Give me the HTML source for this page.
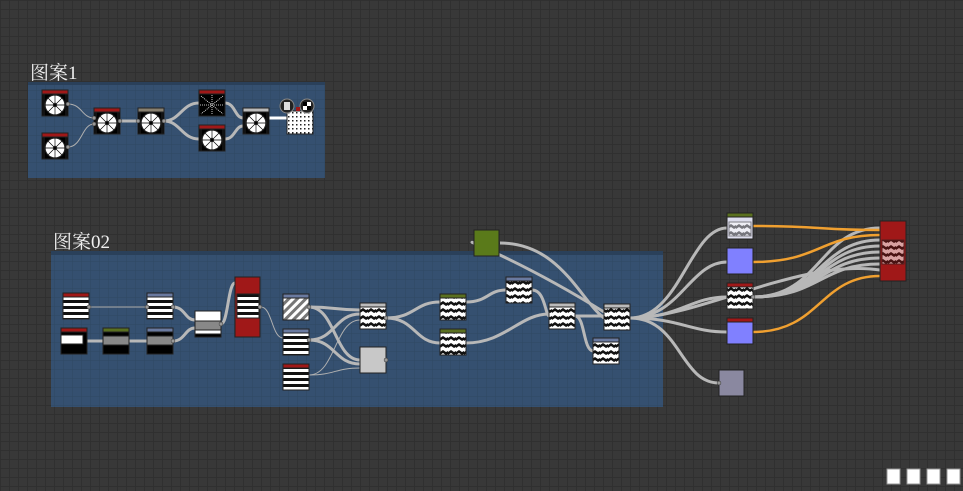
<!DOCTYPE html>
<html><head><meta charset="utf-8"><style>
body{margin:0;width:963px;height:491px;overflow:hidden;background:#373737}
svg{display:block}
text{font-family:"Liberation Serif","Noto Serif CJK SC",serif;fill:#f0f0f0}
</style></head><body>
<svg width="963" height="491" viewBox="0 0 963 491">
<defs>
<pattern id="g" width="9" height="9" patternUnits="userSpaceOnUse"><rect width="9" height="9" fill="#383838"/><path d="M0 0H9M0 0V9" stroke="#2e2e2e" stroke-width="1.5"/></pattern>
<pattern id="gb" width="9" height="9" patternUnits="userSpaceOnUse"><rect width="9" height="9" fill="#355070"/><path d="M0 0H9M0 0V9" stroke="#2f4862" stroke-width="1"/></pattern>
<pattern id="st" width="6" height="6" patternUnits="userSpaceOnUse"><rect width="6" height="6" fill="#fff"/><rect width="6" height="3" fill="#111"/></pattern>
<pattern id="dg" width="6" height="6" patternUnits="userSpaceOnUse" patternTransform="rotate(45)"><rect width="6" height="6" fill="#fff"/><rect width="3" height="6" fill="#777"/></pattern>
<pattern id="wv" width="8" height="7" patternUnits="userSpaceOnUse"><rect width="8" height="7" fill="#fff"/><path d="M0 2L3 0L6 2L8 1V4L6 5L3 3L0 5Z" fill="#111"/></pattern>
<pattern id="dt" width="4" height="4" patternUnits="userSpaceOnUse"><rect width="4" height="4" fill="#fff"/><rect width="1.5" height="1.5" fill="#222"/></pattern>
<symbol id="wh" viewBox="0 0 20 20"><rect width="20" height="20" fill="#000"/><circle cx="10" cy="10" r="9" fill="#fff"/><path d="M10 1V19M1 10H19M3.6 3.6L16.4 16.4M16.4 3.6L3.6 16.4" stroke="#000" stroke-width="0.6"/><circle cx="10" cy="10" r="1.5" fill="#000"/></symbol>
</defs>
<rect width="963" height="491" fill="url(#g)"/>
<rect x="28" y="82" width="297" height="96" fill="url(#gb)"/><rect x="28" y="82" width="297" height="3" fill="#2a405a"/>
<text x="30" y="79" font-size="19">图案1</text>
<rect x="51" y="251" width="612" height="156" fill="url(#gb)"/><rect x="51" y="251" width="612" height="4" fill="#2a405a"/>
<text x="53" y="248" font-size="19">图案02</text>
<g fill="none" stroke="#b0b0b0" stroke-width="1">
<path d="M68 104C82 104 82 118 94 118"/><path d="M68 147C82 147 82 124 94 124"/>
<path d="M89 307H147"/><path d="M261 307C272 307 272 338 283 338"/><path d="M309 375C335 375 335 320 360 320"/><path d="M309 375C335 375 335 368 360 368"/>
</g>
<g fill="none" stroke="#b8b8b8" stroke-width="3">
<path d="M120 121H138"/><path d="M164 121C180 121 182 103 199 103"/><path d="M164 121C180 121 182 139 199 139"/><path d="M225 103C235 103 235 118 243 118"/><path d="M225 139C235 139 235 126 243 126"/>
<path d="M87 341H103M129 341H147"/><path d="M173 307C185 307 185 320 195 320"/><path d="M173 341C185 341 185 328 195 328"/><path d="M221 324C228 324 228 283 235 283"/>
<path d="M309 307C335 307 335 310 360 310"/><path d="M309 307C335 307 335 360 360 360"/><path d="M309 340C335 340 335 314 360 314"/><path d="M309 340C335 340 335 364 360 364"/>
<path d="M386 318C415 318 415 302 440 302"/><path d="M386 318C415 318 415 343 440 343"/>
<path d="M466 302C488 302 488 290 506 290"/><path d="M466 343C505 343 520 314 549 314"/><path d="M532 290C545 290 545 314 549 316"/><path d="M575 316C590 316 590 316 604 316"/><path d="M575 316C585 316 583 350 593 351"/>
<path d="M500 243C560 243 580 300 604 318"/><path d="M474 243C460 238 520 260 604 312"/>
<path d="M630 318C680 318 690 228 727 228"/><path d="M630 318C680 318 690 262 727 262"/><path d="M630 318C680 318 690 297 727 297"/><path d="M630 318C680 318 690 332 727 332"/><path d="M630 318C680 318 680 383 719 383"/>
<path d="M753 297C820 297 820 228 880 228"/><path d="M753 297C820 297 820 240 880 240"/><path d="M753 297C820 297 820 246 880 246"/><path d="M753 297C820 297 820 252 880 252"/><path d="M753 297C820 297 820 258 880 258"/><path d="M753 297C820 297 820 264 880 264"/><path d="M630 318C700 318 800 258 880 270"/>
</g>
<g fill="none" stroke="#f0a030" stroke-width="2.5">
<path d="M753 226C820 226 820 230 880 230"/><path d="M753 262C820 262 820 235 880 235"/><path d="M753 332C820 332 820 276 880 276"/>
</g>
<path d="M268 118H287" stroke="#fff" stroke-width="3"/>
<g stroke="#222" stroke-width="1">
<rect x="42" y="90" width="26" height="26" fill="#000"/><rect x="42" y="90" width="26" height="4" fill="#a01818"/><use href="#wh" x="43" y="94" width="24" height="22"/>
<rect x="42" y="133" width="26" height="26" fill="#000"/><rect x="42" y="133" width="26" height="4" fill="#a01818"/><use href="#wh" x="43" y="137" width="24" height="22"/>
<rect x="94" y="108" width="26" height="26" fill="#000"/><rect x="94" y="108" width="26" height="4" fill="#a01818"/><use href="#wh" x="95" y="112" width="24" height="22"/>
<rect x="138" y="108" width="26" height="26" fill="#000"/><rect x="138" y="108" width="26" height="4" fill="#888070"/><use href="#wh" x="139" y="112" width="24" height="22"/>
<rect x="199" y="90" width="26" height="26" fill="#000"/><rect x="199" y="90" width="26" height="4" fill="#a01818"/>
<rect x="199" y="125" width="26" height="26" fill="#000"/><rect x="199" y="125" width="26" height="4" fill="#a01818"/><use href="#wh" x="200" y="129" width="24" height="22"/>
<rect x="243" y="108" width="26" height="26" fill="#000"/><rect x="243" y="108" width="26" height="4" fill="#bbb"/><use href="#wh" x="244" y="112" width="24" height="22"/>
<rect x="287" y="111" width="26" height="23" fill="url(#dt)"/>
</g>
<path d="M201 96L223 114M223 96L201 114M212 95V115M200 105H224" stroke="#fff" stroke-width="0.8" stroke-dasharray="1 1"/>
<circle cx="287" cy="106" r="7" fill="#222" stroke="#888"/><rect x="284" y="102" width="6" height="8" fill="#ddd"/>
<circle cx="307" cy="106" r="7" fill="#222" stroke="#888"/><rect x="303" y="102" width="8" height="8" fill="#fff"/><rect x="303" y="102" width="4" height="4" fill="#000"/><rect x="307" y="106" width="4" height="4" fill="#000"/>
<rect x="296" y="107" width="4" height="4" fill="#a01818"/>
<g stroke="#222" stroke-width="1">
<rect x="63" y="293" width="26" height="26" fill="url(#st)"/><rect x="63" y="293" width="26" height="4" fill="#a01818"/>
<rect x="61" y="328" width="26" height="26" fill="#000"/><rect x="61" y="335" width="22" height="9" fill="#fff"/><rect x="61" y="328" width="26" height="4" fill="#a01818"/>
<rect x="103" y="328" width="26" height="26" fill="#000"/><rect x="103" y="336" width="26" height="9" fill="#888"/><rect x="103" y="328" width="26" height="4" fill="#5a7020"/>
<rect x="147" y="293" width="26" height="26" fill="url(#st)"/><rect x="147" y="293" width="26" height="4" fill="#6a7aa0"/>
<rect x="147" y="328" width="26" height="26" fill="#000"/><rect x="147" y="336" width="26" height="9" fill="#888"/><rect x="147" y="328" width="26" height="4" fill="#6a7aa0"/>
<rect x="195" y="311" width="26" height="26" fill="#fff"/><rect x="195" y="321" width="26" height="9" fill="#888"/><rect x="195" y="334" width="26" height="3" fill="#000"/>
<rect x="235" y="277" width="25" height="60" fill="#a01818"/><rect x="237" y="294" width="22" height="24" fill="url(#st)"/>
<rect x="283" y="294" width="26" height="26" fill="url(#dg)"/><rect x="283" y="294" width="26" height="4" fill="#6a7aa0"/>
<rect x="283" y="329" width="26" height="26" fill="url(#st)"/><rect x="283" y="329" width="26" height="4" fill="#6a7aa0"/>
<rect x="283" y="364" width="26" height="26" fill="url(#st)"/><rect x="283" y="364" width="26" height="4" fill="#a01818"/>
<rect x="360" y="303" width="26" height="26" fill="url(#wv)"/><rect x="360" y="303" width="26" height="4" fill="#bbb"/>
<rect x="360" y="347" width="26" height="26" fill="#c8c8c8"/>
<rect x="440" y="294" width="26" height="26" fill="url(#wv)"/><rect x="440" y="294" width="26" height="4" fill="#5a7020"/>
<rect x="440" y="329" width="26" height="26" fill="url(#wv)"/><rect x="440" y="329" width="26" height="4" fill="#5a7020"/>
<rect x="506" y="277" width="26" height="26" fill="url(#wv)"/><rect x="506" y="277" width="26" height="4" fill="#6a7aa0"/>
<rect x="549" y="303" width="26" height="26" fill="url(#wv)"/><rect x="549" y="303" width="26" height="4" fill="#bbb"/>
<rect x="604" y="304" width="26" height="26" fill="url(#wv)"/><rect x="604" y="304" width="26" height="4" fill="#bbb"/>
<rect x="593" y="338" width="26" height="26" fill="url(#wv)"/><rect x="593" y="338" width="26" height="4" fill="#6a7aa0"/>
<rect x="474" y="230" width="25" height="26" fill="#5a7a1a"/>
<rect x="727" y="213" width="26" height="26" fill="#dde"/><rect x="727" y="213" width="26" height="4" fill="#5a7020"/><rect x="729" y="222" width="22" height="14" fill="url(#wv)" opacity=".5"/>
<rect x="727" y="248" width="26" height="26" fill="#8080ff"/>
<rect x="727" y="283" width="26" height="26" fill="url(#wv)"/><rect x="727" y="283" width="26" height="4" fill="#a01818"/>
<rect x="727" y="318" width="26" height="26" fill="#8080ff"/><rect x="727" y="318" width="26" height="4" fill="#a01818"/>
<rect x="719" y="370" width="25" height="26" fill="#8a88a0"/>
<rect x="880" y="221" width="26" height="60" fill="#a01818"/><rect x="882" y="240" width="22" height="24" fill="url(#wv)" opacity=".6"/>
</g>
<g fill="#999" stroke="#333" stroke-width="0.5">
<circle cx="68" cy="104" r="2"/><circle cx="68" cy="147" r="2"/><circle cx="94" cy="118" r="2"/><circle cx="94" cy="124" r="2"/><circle cx="120" cy="121" r="2"/><circle cx="138" cy="121" r="2"/><circle cx="164" cy="121" r="2"/>
<circle cx="89" cy="307" r="2"/><circle cx="147" cy="307" r="2"/><circle cx="173" cy="307" r="2"/><circle cx="173" cy="341" r="2"/><circle cx="221" cy="324" r="2"/><circle cx="260" cy="307" r="2"/>
<circle cx="309" cy="307" r="2"/><circle cx="309" cy="340" r="2"/><circle cx="386" cy="318" r="2"/><circle cx="386" cy="360" r="2"/><circle cx="753" cy="297" r="2"/><circle cx="719" cy="383" r="2"/>
</g>
<g fill="#fff" stroke="#999">
<rect x="887" y="469" width="13" height="15"/><rect x="907" y="469" width="13" height="15"/><rect x="927" y="469" width="13" height="15"/><rect x="947" y="469" width="13" height="15"/>
</g>
</svg>
</body></html>
